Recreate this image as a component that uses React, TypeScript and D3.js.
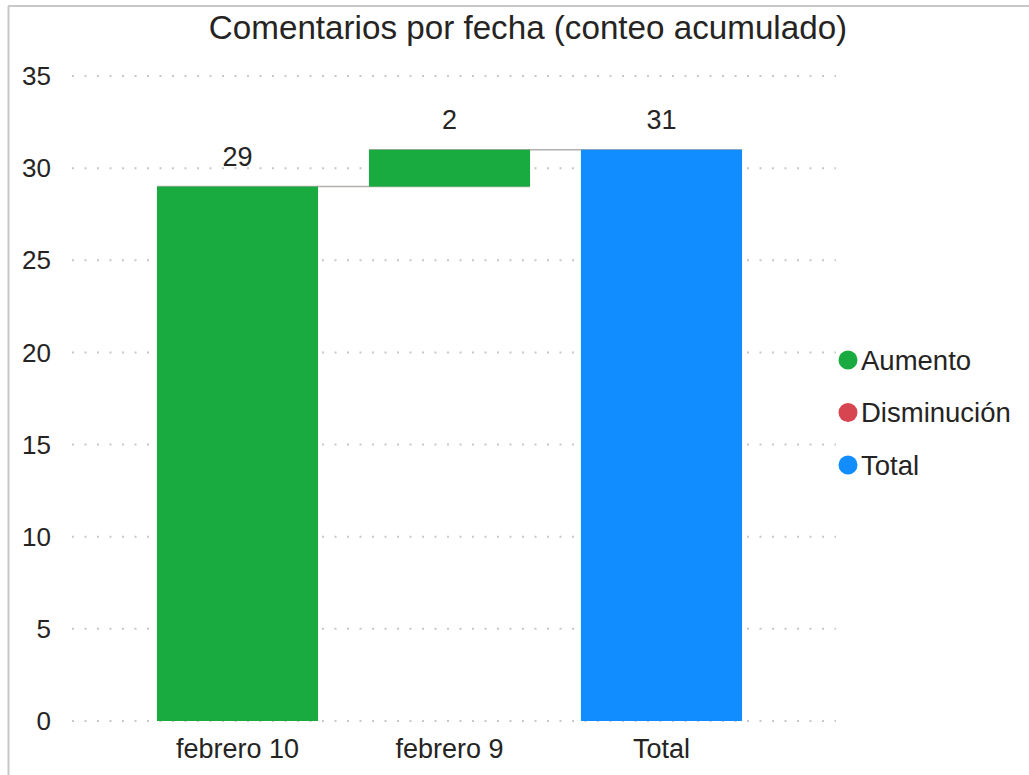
import React from "react";
import * as d3 from "d3";

const categories = ["febrero 10", "febrero 9", "Total"];
const deltas = [29, 2];
const kinds = ["Aumento", "Aumento", "Total"];
const yTicks = [0, 5, 10, 15, 20, 25, 30, 35];
const legendItems = ["Aumento", "Disminución", "Total"];
const colors: Record<string, string> = {
  Aumento: "#1AAB40",
  "Disminución": "#D64550",
  Total: "#118DFF",
};

const W = 1029;
const H = 775;
const FONT = "'Liberation Sans', Arial, sans-serif";
const TEXT = "#252423";

export default function App() {
  const y = d3.scaleLinear().domain([0, 35]).range([721, 76]);
  const x = d3
    .scaleBand<string>()
    .domain(categories)
    .range([131.5, 767.5])
    .paddingInner(0.24)
    .paddingOuter(0.12);

  let cum = 0;
  const bars = categories.map((c, i) => {
    if (kinds[i] === "Total") {
      return { c, y0: 0, y1: cum, label: cum, kind: "Total" };
    }
    const y0 = cum;
    cum += deltas[i];
    return { c, y0, y1: cum, label: deltas[i], kind: kinds[i] };
  });

  const bw = x.bandwidth();

  return (
    <svg
      width={W}
      height={H}
      style={{ position: "absolute", left: 0, top: 0, background: "#fff" }}
      fontFamily={FONT}
    >
      <line x1={8.5} y1={6} x2={8.5} y2={H} stroke="#c8c8c8" strokeWidth={2} />
      <line x1={8} y1={6} x2={W} y2={6} stroke="#c8c8c8" strokeWidth={2} />
      <text x={528} y={39} textAnchor="middle" fontSize={33.2} fill={TEXT}>
        Comentarios por fecha (conteo acumulado)
      </text>
      {yTicks.map((t) => (
        <g key={t}>
          <line
            x1={72}
            x2={836}
            y1={y(t)}
            y2={y(t)}
            stroke="#c8c8c8"
            strokeWidth={2}
            strokeDasharray="2,10.5"
          />
          <text x={51} y={y(t)} dy="0.35em" textAnchor="end" fontSize={26} fill={TEXT}>
            {t}
          </text>
        </g>
      ))}
      {bars.slice(0, -1).map((b, i) => {
        const nx = bars[i + 1];
        return (
          <line
            key={"c" + i}
            x1={(x(b.c) as number)}
            x2={(x(nx.c) as number) + bw}
            y1={y(b.y1)}
            y2={y(b.y1)}
            stroke="#b3b0ad"
            strokeWidth={1.5}
          />
        );
      })}
      {bars.map((b) => (
        <g key={b.c}>
          <rect
            x={x(b.c)}
            width={bw}
            y={y(b.y1)}
            height={y(b.y0) - y(b.y1)}
            fill={colors[b.kind]}
          />
          <text
            x={(x(b.c) as number) + bw / 2}
            y={y(b.y1) - 21}
            textAnchor="middle"
            fontSize={27}
            fill={TEXT}
          >
            {b.label}
          </text>
          <text
            x={(x(b.c) as number) + bw / 2}
            y={758}
            textAnchor="middle"
            fontSize={27}
            fill={TEXT}
          >
            {b.c}
          </text>
        </g>
      ))}
      {legendItems.map((l, i) => (
        <g key={l} transform={`translate(848, ${360 + i * 52.5})`}>
          <circle r={9.5} fill={colors[l]} />
          <text x={13} dy="0.35em" fontSize={27.5} fill={TEXT}>
            {l}
          </text>
        </g>
      ))}
    </svg>
  );
}
